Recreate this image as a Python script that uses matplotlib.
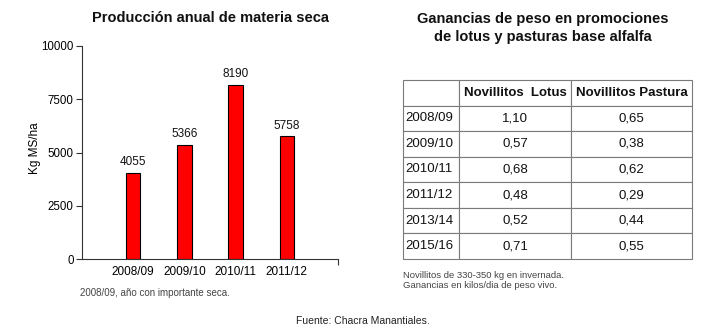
import matplotlib.pyplot as plt

plt.rcParams['font.family'] = ['Liberation Sans', 'DejaVu Sans']

# Producción anual de materia seca (kg MS/ha)
campanias = ['2008/09', '2009/10', '2010/11', '2011/12']
produccion = [4055, 5366, 8190, 5758]

# Ganancias de peso (kg/día)
anios_tabla = ['2008/09', '2009/10', '2010/11', '2011/12', '2013/14', '2015/16']
ganancia_lotus = ['1,10', '0,57', '0,68', '0,48', '0,52', '0,71']
ganancia_pastura = ['0,65', '0,38', '0,62', '0,29', '0,44', '0,55']
encabezados = ['', 'Novillitos  Lotus', 'Novillitos Pastura']

W, H = 727, 332
fig = plt.figure(figsize=(W / 100, H / 100), dpi=100)
fig.patch.set_facecolor('white')


def box(x0, y0, x1, y1):
    # caja en pixeles (origen arriba a la izquierda) -> fracción de figura
    return [x0 / W, 1 - y1 / H, (x1 - x0) / W, (y1 - y0) / H]


# --- Gráfico de barras ---
ax = fig.add_axes(box(82, 46, 338, 259))
pos = range(1, len(campanias) + 1)
ax.bar(pos, produccion, width=0.28, color='#ff0000', edgecolor='black', linewidth=0.8)
for x, v in zip(pos, produccion):
    ax.text(x, v + 220, str(v), ha='center', va='bottom', fontsize=8.5, color='#111111')

ax.set_xlim(0, 5)
ax.set_ylim(0, 10000)
ax.set_yticks([0, 2500, 5000, 7500, 10000])
ax.set_xticks(list(pos))
ax.set_xticklabels(campanias, fontsize=8.5)
ax.tick_params(axis='x', length=0, pad=5)
ax.tick_params(axis='y', length=4, width=0.8, labelsize=8.3, color='#333333', pad=2)
ax.set_xticks([5], minor=True)
ax.tick_params(axis='x', which='minor', length=4, width=0.8, color='#333333')
for s in ['top', 'right']:
    ax.spines[s].set_visible(False)
for s in ['left', 'bottom']:
    ax.spines[s].set_color('#333333')
    ax.spines[s].set_linewidth(0.8)
ax.set_ylabel('Kg MS/ha', fontsize=8.5, va='center')
ax.yaxis.set_label_coords(-0.184, 0.52)

fig.text(210 / W, 1 - 18 / H, 'Producción anual de materia seca', ha='center', va='center',
         fontsize=10.5, fontweight='bold', color='#111111')
fig.text(80 / W, 1 - 293 / H, '2008/09, año con importante seca.', ha='left', va='center',
         fontsize=7, color='#444444')

# --- Tabla de ganancias ---
fig.text(543 / W, 1 - 28 / H, 'Ganancias de peso en promociones\nde lotus y pasturas base alfalfa',
         ha='center', va='center', fontsize=10.5, fontweight='bold', color='#111111',
         linespacing=1.3)

tax = fig.add_axes(box(403, 80, 692, 259))
tax.axis('off')
filas = [[a, l, p] for a, l, p in zip(anios_tabla, ganancia_lotus, ganancia_pastura)]
tabla = tax.table(cellText=filas, colLabels=encabezados, bbox=[0, 0, 1, 1],
                  colWidths=[56, 112, 121])
tabla.auto_set_font_size(False)
for (r, c), cell in tabla.get_celld().items():
    cell.set_edgecolor('#7a7a7a')
    cell.set_linewidth(0.8)
    txt = cell.get_text()
    txt.set_fontsize(9.5)
    txt.set_color('#111111')
    if r == 0:
        txt.set_fontweight('bold')
        txt.set_ha('center')
    elif c == 0:
        txt.set_ha('left')
        cell.PAD = 0.05
    else:
        txt.set_ha('center')

fig.text(403 / W, 1 - 275 / H, 'Novillitos de 330-350 kg en invernada.', ha='left', va='center',
         fontsize=6.8, color='#444444')
fig.text(403 / W, 1 - 286 / H, 'Ganancias en kilos/dia de peso vivo.', ha='left', va='center',
         fontsize=6.8, color='#444444')

fig.text(363 / W, 1 - 321 / H, 'Fuente: Chacra Manantiales.', ha='center', va='center',
         fontsize=7.5, color='#222222')

fig.savefig('out.png', dpi=100)
